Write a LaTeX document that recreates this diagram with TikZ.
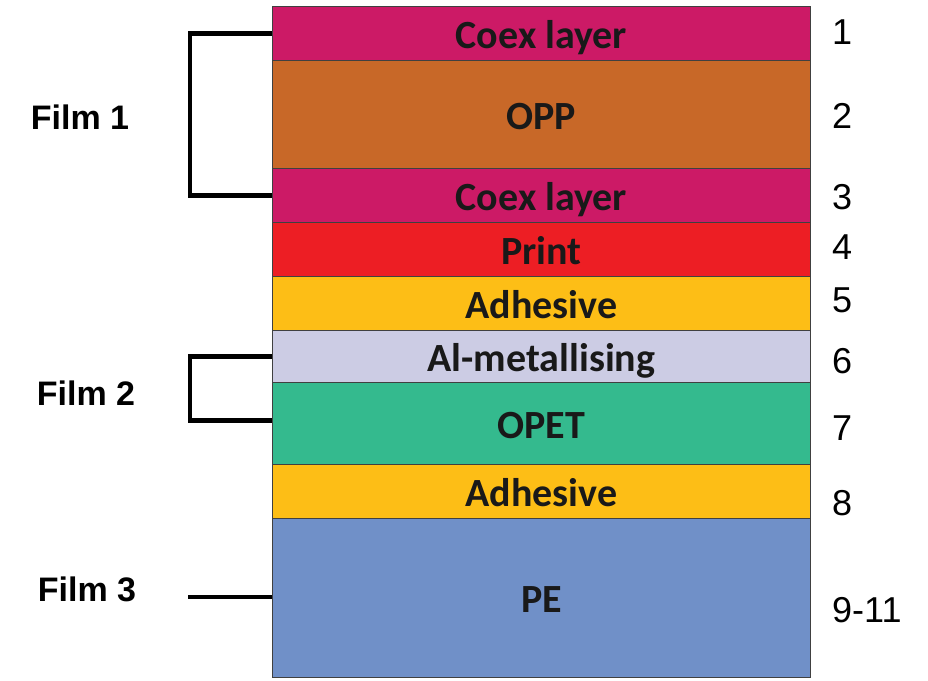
\documentclass[tikz,border=0pt]{standalone}
\usepackage{fontspec}
\setmainfont{Liberation Sans}
\newfontfamily\layerfont{Carlito}
\usetikzlibrary{positioning}

\definecolor{coex}{RGB}{204,26,102}
\definecolor{opp}{RGB}{200,104,40}
\definecolor{print}{RGB}{237,30,36}
\definecolor{adhesive}{RGB}{253,190,22}
\definecolor{metal}{RGB}{204,204,228}
\definecolor{opet}{RGB}{52,186,142}
\definecolor{pe}{RGB}{112,144,200}

\tikzset{
  layer/.style={draw=black!75, line width=0.9pt, rectangle, inner sep=0pt,
    minimum width=538pt, anchor=north west, text=black!90,
    text height=30pt, text depth=0pt,
    font=\layerfont\bfseries\fontsize{40}{40}\selectfont},
  num/.style={anchor=west, inner sep=0pt, font=\fontsize{36}{36}\selectfont},
  film/.style={inner sep=0pt, font=\bfseries\fontsize{34}{34}\selectfont},
  bracket/.style={line width=4.5pt}
}

\begin{document}
\begin{tikzpicture}[x=1pt,y=-1pt]
\useasboundingbox (0,0) rectangle (928,680);
% layers, top to bottom
\node[layer, fill=coex,     minimum height=54pt]  (coex-a)   at (272,6)   {Coex layer};
\node[layer, fill=opp,      minimum height=108pt] (opp)      at (272,60)  {OPP};
\node[layer, fill=coex,     minimum height=54pt]  (coex-b)   at (272,168) {Coex layer};
\node[layer, fill=print,    minimum height=54pt]  (print)    at (272,222) {Print};
\node[layer, fill=adhesive, minimum height=54pt]  (adh-a)    at (272,276) {Adhesive};
\node[layer, fill=metal,    minimum height=52pt]  (metal)    at (272,330) {Al-metallising};
\node[layer, fill=opet,     minimum height=82pt]  (opet)     at (272,382) {OPET};
\node[layer, fill=adhesive, minimum height=54pt]  (adh-b)    at (272,464) {Adhesive};
\node[layer, fill=pe,       minimum height=159pt] (pe)       at (272,518) {PE};

% layer numbers
\node[num] (n1) at (832,32)  {1};
\node[num] (n2) at (832,116) {2};
\node[num] (n3) at (832,197) {3};
\node[num] (n4) at (832,247) {4};
\node[num] (n5) at (832,300) {5};
\node[num] (n6) at (832,361) {6};
\node[num] (n7) at (832,428) {7};
\node[num] (n8) at (832,503) {8};
\node[num] (n9) at (832,610) {9-11};

% films
\node[film] (film-a) at (80,117) {Film 1};
\node[film] (film-b) at (86,393) {Film 2};
\node[film] (film-c) at (87,589) {Film 3};

\draw[bracket] (coex-a.west) -- ++(-82,0) |- (coex-b.west);
\draw[bracket] (metal.west)  -- ++(-82,0) |- ([yshift=3pt]opet.west);
\draw[bracket] ([yshift=1pt]pe.west) -- ++(-84,0);
\end{tikzpicture}
\end{document}
